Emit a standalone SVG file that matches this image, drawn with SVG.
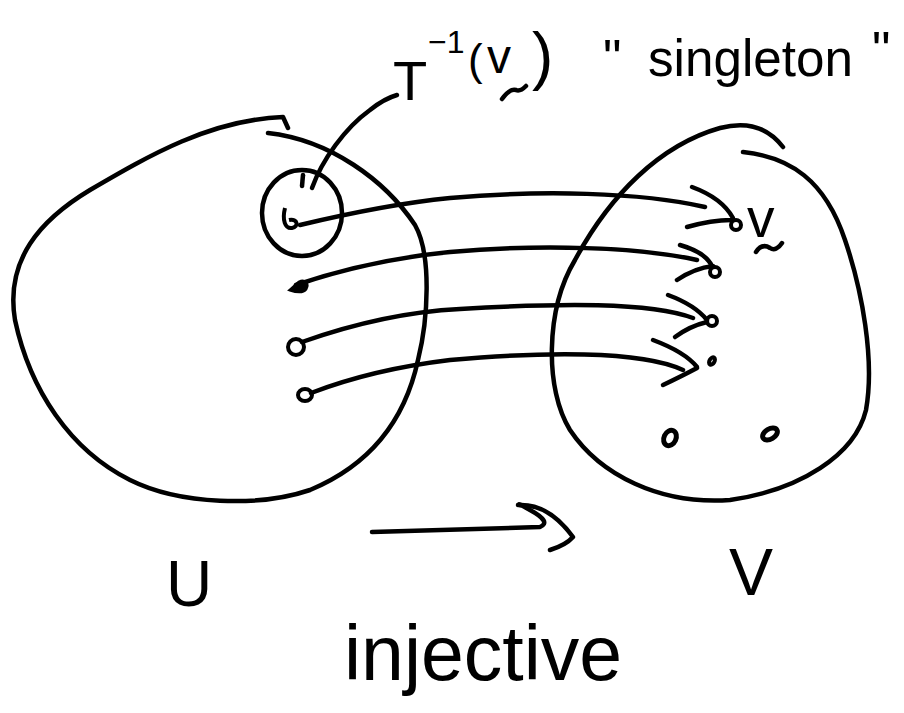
<svg xmlns="http://www.w3.org/2000/svg" width="904" height="713" viewBox="0 0 904 713">
<style>
.ink{fill:none;stroke:#000;stroke-width:4.5;stroke-linecap:round;stroke-linejoin:round}
.dot{fill:none;stroke:#000;stroke-width:4}
.txt{font-family:"Liberation Sans",Arial,sans-serif;fill:#000}
</style>
<rect width="904" height="713" fill="#fff"/>
<g id="set-U">
<path class="ink" d="M 268,133 C 330,140 385,180 415,225 C 432,255 428,320 418,360 C 405,420 370,465 310,490 C 260,507 180,505 130,480 C 70,450 30,390 15,320 C 5,260 40,220 90,190 C 150,155 210,120 283,117 L 288,128"/>
<text class="txt" x="166" y="606" font-size="64">U</text>
</g>
<g id="set-V">
<path class="ink" d="M 743,152 C 790,157 825,180 845,240 C 862,290 875,360 866,410 C 855,455 800,490 730,500 C 660,505 600,475 570,430 C 545,390 545,310 575,260 C 610,195 660,145 720,128 C 750,120 770,130 783,147"/>
<text class="txt" x="729" y="595" font-size="66">V</text>
</g>
<g id="preimage">
<ellipse class="ink" cx="302" cy="213" rx="40" ry="43"/>
<path class="ink" d="M 303,175 L 302,186"/>
</g>
<g id="label-T">
<text class="txt"><tspan x="393" y="100" font-size="56">T</tspan><tspan x="428" y="53" font-size="32">−1</tspan><tspan x="468" y="75" font-size="44">(</tspan><tspan x="487" y="73" font-size="48">v</tspan><tspan x="532" y="78" font-size="64">)</tspan></text>
<path class="ink" d="M 502,99 Q 510,88 516,90 Q 520,92 526,86"/>
</g>
<g id="label-singleton">
<text class="txt"><tspan x="603" y="76" font-size="52">"</tspan><tspan x="648" y="76" font-size="52" textLength="205" lengthAdjust="spacingAndGlyphs">singleton</tspan><tspan x="872" y="68" font-size="52">"</tspan></text>
</g>
<g id="points-U">
<path class="dot" d="M 285,208 C 282,220 285,229 292,228 C 299,227 298,218 289,220"/>
<path d="M 290,290 L 299,282 C 305,279 309,284 306,289 C 303,293 296,292 290,290 Z" fill="#000" stroke="#000" stroke-width="3"/>
<circle class="dot" cx="296" cy="347" r="8"/>
<ellipse class="dot" cx="305" cy="395" rx="7" ry="6"/>
</g>
<g id="points-V">
<circle class="dot" cx="736" cy="225" r="5"/>
<circle class="dot" cx="715" cy="272" r="5"/>
<circle class="dot" cx="712" cy="321" r="5"/>
<ellipse class="dot" cx="712" cy="361" rx="2.5" ry="4" transform="rotate(30 712 361)"/>
<ellipse cx="670" cy="438" rx="6" ry="8" transform="rotate(25 670 438)" fill="none" stroke="#000" stroke-width="5"/>
<ellipse cx="770" cy="434" rx="8" ry="5" transform="rotate(-30 770 434)" fill="none" stroke="#000" stroke-width="5"/>
<text class="txt" x="747" y="237" font-size="55">v</text>
<path class="ink" d="M 756,252 Q 762,243 770,248 Q 776,252 782,243"/>
</g>
<g id="connectors">
<path class="ink" d="M 312,188 C 322,160 345,128 370,110 C 380,102 390,97 397,95"/>
<path class="ink" d="M 300,225 C 350,213 400,203 450,198 C 540,190 640,192 705,207"/>
<path class="ink" d="M 692,187 Q 722,198 733,218 M 687,227 Q 712,220 731,220"/>
<path class="ink" d="M 296,285 C 340,270 390,258 450,252 C 540,244 640,247 697,260"/>
<path class="ink" d="M 680,245 Q 705,252 712,266 M 677,280 Q 695,268 713,266"/>
<path class="ink" d="M 302,342 C 350,325 400,312 460,309 C 560,303 650,302 693,318"/>
<path class="ink" d="M 668,295 Q 695,305 707,320 M 675,337 Q 690,326 707,322"/>
<path class="ink" d="M 311,393 C 350,378 400,366 450,360 C 540,352 640,350 683,370"/>
<path class="ink" d="M 653,340 Q 685,352 697,367 M 663,385 Q 682,376 697,368"/>
<path class="ink" d="M 372,532 C 440,530 500,528 540,527 Q 552,522 530,510 Q 516,502 520,505"/>
<path class="ink" d="M 518,505 Q 548,503 573,537 Q 566,545 550,550"/>
</g>
<text class="txt" x="344" y="680" font-size="77">injective</text>
</svg>
